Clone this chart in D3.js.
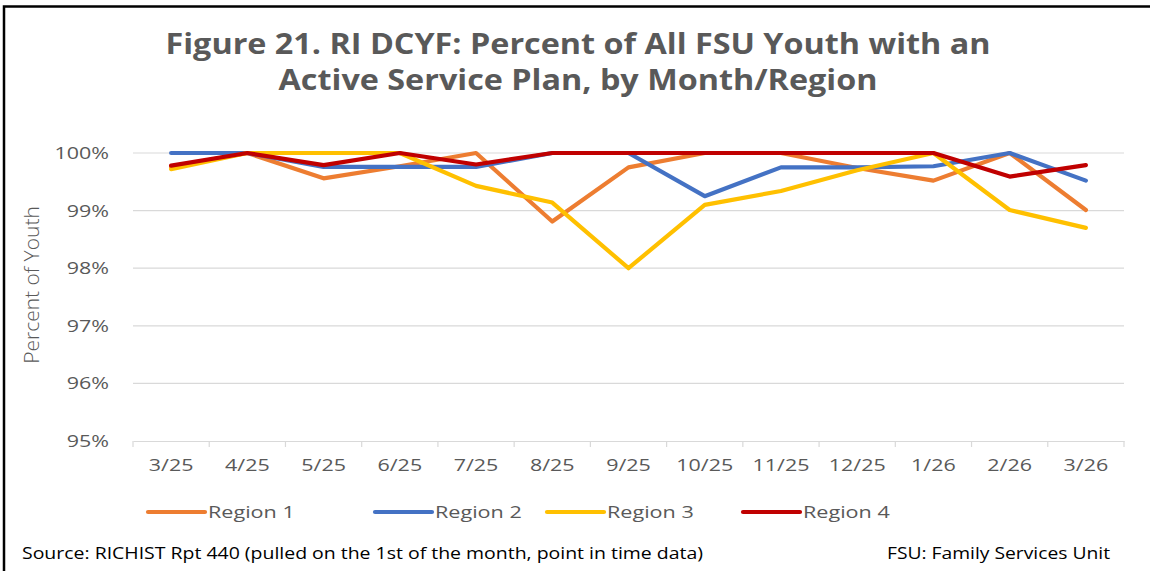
<!DOCTYPE html>
<html>
<head>
<meta charset="utf-8">
<script src="https://cdn.jsdelivr.net/npm/d3@7"></script>
<style>
  body { margin: 0; background: #fff; }
  svg { display: block; }
</style>
</head>
<body>
<svg id="chart"></svg>
<script>
const months = ["3/25","4/25","5/25","6/25","7/25","8/25","9/25","10/25","11/25","12/25","1/26","2/26","3/26"];
const region1 = [99.76,100,99.56,99.77,100,98.81,99.75,100,100,99.74,99.52,100,99.01];
const region2 = [100,100,99.76,99.76,99.76,100,100,99.25,99.75,99.75,99.77,100,99.52];
const region3 = [99.72,100,100,100,99.43,99.14,98.0,99.1,99.34,99.7,100,99.01,98.7];
const region4 = [99.78,100,99.79,100,99.8,100,100,100,100,100,100,99.59,99.79];
const seriesNames = ["Region 1","Region 2","Region 3","Region 4"];
const yTicks = [95,96,97,98,99,100];

const width = 1150, height = 571;
const colors = ["#ED7D31","#4472C4","#FFC000","#C00000"];
const series = [region1, region2, region3, region4].map((vals, i) => ({ name: seriesNames[i], values: vals, color: colors[i] }));

// the source picture is a bit wider than its font, so text gets stretched sideways
function stretch(sel, k) {
    sel.each(function() {
        const w = this.getComputedTextLength();
        d3.select(this).attr('textLength', w * k).attr('lengthAdjust', 'spacingAndGlyphs');
    });
}

const svg = d3.select('#chart')
    .attr('width', width)
    .attr('height', height);

// frame
svg.append('path')
    .attr('d', `M4,${height} L4,6.5 L${width},6.5`)
    .attr('fill', 'none')
    .attr('stroke', '#000')
    .attr('stroke-width', 2.5);

// title
const titleLines = ['Figure 21. RI DCYF: Percent of All FSU Youth with an', 'Active Service Plan, by Month/Region'];
const titleText = svg.append('g')
    .selectAll('text')
    .data(titleLines)
    .enter()
    .append('text')
    .attr('x', 578)
    .attr('y', (d, i) => 54 + i * 36)
    .attr('text-anchor', 'middle')
    .attr('font-family', 'Open Sans, sans-serif')
    .attr('font-weight', 'bold')
    .attr('font-size', 28)
    .attr('fill', '#595959')
    .text(d => d);
const tw = titleText.node().getComputedTextLength();
stretch(titleText, 825 / tw);

let x = d3.scaleBand()
    .domain(months)
    .range([133, 1124]);

let y = d3.scaleLinear()
    .domain([95, 100])
    .range([441, 153]);

// gridlines
svg.append('g')
    .selectAll('line')
    .data(yTicks.filter(t => t > 95))
    .enter()
    .append('line')
    .attr('x1', 133).attr('x2', 1124)
    .attr('y1', d => y(d)).attr('y2', d => y(d))
    .attr('stroke', '#d9d9d9')
    .attr('stroke-width', 1.2);

// y axis labels
const yLabels = svg.append('g')
    .selectAll('text')
    .data(yTicks)
    .enter()
    .append('text')
    .attr('x', 109)
    .attr('y', d => y(d) + 6)
    .attr('text-anchor', 'end')
    .attr('font-family', 'Open Sans, sans-serif')
    .attr('font-size', 16.5)
    .attr('fill', '#595959')
    .text(d => d + '%');
stretch(yLabels, 1.3);

// x axis
const xAxis = svg.append('g')
    .attr('transform', `translate(0,${y(95)})`)
    .call(d3.axisBottom(x).tickSize(0).tickPadding(18));
xAxis.select('.domain').attr('stroke', '#d9d9d9').attr('stroke-width', 1.2);
const xLabels = xAxis.selectAll('text')
    .attr('font-family', 'Open Sans, sans-serif')
    .attr('font-size', 16.5)
    .attr('fill', '#595959');
stretch(xLabels, 1.3);
xAxis.selectAll('.boundary')
    .data(months.concat(['end']))
    .enter()
    .append('line')
    .attr('x1', (d, i) => i < months.length ? x(d) : x.range()[1])
    .attr('x2', (d, i) => i < months.length ? x(d) : x.range()[1])
    .attr('y1', 0).attr('y2', 6)
    .attr('stroke', '#d9d9d9')
    .attr('stroke-width', 1.2);

// y axis title
svg.append('text')
    .attr('transform', `translate(39,285) rotate(-90)`)
    .attr('text-anchor', 'middle')
    .attr('font-family', 'Open Sans, sans-serif')
    .attr('font-weight', 300)
    .attr('font-size', 21)
    .attr('fill', '#595959')
    .text('Percent of Youth');

// lines
const line = d3.line()
    .x((d, i) => x(months[i]) + x.bandwidth() / 2)
    .y(d => y(d));

svg.append('g')
    .selectAll('path')
    .data(series)
    .enter()
    .append('path')
    .attr('d', d => line(d.values))
    .attr('fill', 'none')
    .attr('stroke', d => d.color)
    .attr('stroke-width', 4.2)
    .attr('stroke-linejoin', 'round')
    .attr('stroke-linecap', 'round');

// legend
const legendX = [148, 375, 547, 743];
const legend = svg.append('g')
    .selectAll('g')
    .data(series)
    .enter()
    .append('g')
    .attr('transform', (d, i) => `translate(${legendX[i]},512)`);
legend.append('line')
    .attr('x1', 0).attr('x2', 57)
    .attr('stroke', d => d.color)
    .attr('stroke-width', 4.2)
    .attr('stroke-linecap', 'round');
const legendText = legend.append('text')
    .attr('x', 60)
    .attr('y', 6)
    .attr('font-family', 'Open Sans, sans-serif')
    .attr('font-size', 17)
    .attr('fill', '#595959')
    .text(d => d.name);
stretch(legendText, 1.27);

// footer
const footer = svg.append('g');
const src = footer.append('text')
    .attr('x', 22).attr('y', 559)
    .attr('font-family', 'Open Sans, sans-serif')
    .attr('font-size', 16)
    .attr('fill', '#000')
    .text('Source: RICHIST Rpt 440 (pulled on the 1st of the month, point in time data)');
stretch(src, 681 / src.node().getComputedTextLength());
const fsu = footer.append('text')
    .attr('x', 1110).attr('y', 559)
    .attr('text-anchor', 'end')
    .attr('font-family', 'Open Sans, sans-serif')
    .attr('font-size', 16)
    .attr('fill', '#000')
    .text('FSU: Family Services Unit');
stretch(fsu, 223 / fsu.node().getComputedTextLength());
</script>
</body>
</html>
